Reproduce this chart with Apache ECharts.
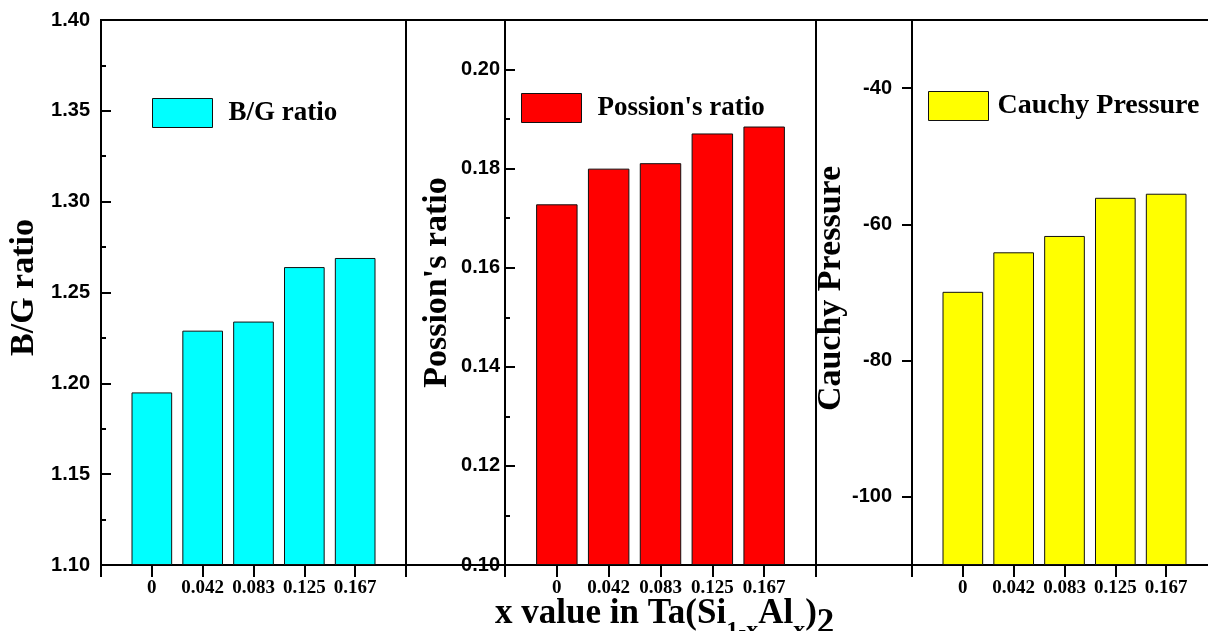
<!DOCTYPE html>
<html>
<head>
<meta charset="utf-8">
<script src="https://cdn.jsdelivr.net/npm/echarts@6/dist/echarts.min.js"></script>
<style>
  html, body { margin: 0; padding: 0; background: #fff; }
  #chart { width: 1208px; height: 631px; }
</style>
</head>
<body>
<div id="chart"></div>
<script>
// x values of Ta(Si1-xAlx)2
const categories = ['0', '0.042', '0.083', '0.125', '0.167'];
// B/G ratio
const bgRatio = [1.195, 1.229, 1.234, 1.264, 1.269];
// Poisson's ratio
const poissonRatio = [0.1728, 0.1800, 0.1811, 0.1871, 0.1885];
// Cauchy pressure
const cauchyPressure = [-69.9, -64.1, -61.7, -56.1, -55.5];

const seriesNames = ['B/G ratio', "Possion's ratio", 'Cauchy Pressure'];
const seriesValues = [bgRatio, poissonRatio, cauchyPressure];
const barColors = ['#00ffff', '#ff0000', '#ffff00'];

const TOP = 20, HEIGHT = 545;
const panels = [
  { left: 101, width: 305, min: 1.10, max: 1.40, interval: 0.05, minor: true, inside: true,
    labelMargin: 11, showMin: true, showMax: true, digits: 2,
    nameGap: 60, namePad: 10, legendLeft: 152, legendTop: 98, legendFont: 27, legendPad: 11 },
  { left: 505, width: 311, min: 0.10, max: 0.21, interval: 0.02, minor: false, inside: true,
    labelMargin: 5, showMin: true, showMax: false, digits: 2,
    nameGap: 51, namePad: 20, legendLeft: 521, legendTop: 93, legendFont: 27, legendPad: 11 },
  { left: 912, width: 305, min: -110, max: -30, splitNumber: 4, minor: false, inside: false,
    labelMargin: 20, showMin: false, showMax: false, digits: 0,
    nameGap: 58, namePad: 8, legendLeft: 928, legendTop: 91, legendFont: 28, legendPad: 4 }
];

const black = '#000';
const sansBold = { fontFamily: 'Liberation Sans', fontWeight: 'bold', color: black };
const serifBold = { fontFamily: 'Liberation Serif', fontWeight: 'bold', color: black };

const grid = panels.map(p => ({
  left: p.left, top: TOP, width: p.width, height: HEIGHT,
  show: true, borderColor: black, borderWidth: 2, backgroundColor: 'transparent',
  outerBoundsMode: 'none'
}));

const xAxis = panels.map((p, i) => ({
  type: 'value', gridIndex: i, min: -1, max: 5, interval: 1, position: 'bottom',
  axisLine: { show: true, onZero: false, lineStyle: { color: black, width: 2 } },
  axisTick: { show: true, inside: false, length: 12, lineStyle: { color: black, width: 2 } },
  axisLabel: Object.assign({ margin: 14, fontSize: 19, showMinLabel: true, showMaxLabel: true,
    formatter: v => categories[v] ?? '' }, serifBold),
  splitLine: { show: false }
}));

const yAxis = panels.map((p, i) => {
  const ax = {
    type: 'value', gridIndex: i, min: p.min, max: p.max, startValue: p.min, position: 'left',
    axisLine: { show: true, onZero: false, lineStyle: { color: black, width: 2 } },
    axisTick: { show: true, inside: p.inside, length: 10, lineStyle: { color: black, width: 2 } },
    minorTick: { show: p.minor, splitNumber: 2, length: 5, lineStyle: { color: black, width: 2 } },
    axisLabel: Object.assign({ margin: p.labelMargin, fontSize: 20,
      showMinLabel: p.showMin, showMaxLabel: p.showMax,
      formatter: v => v.toFixed(p.digits) }, sansBold),
    splitLine: { show: false }, minorSplitLine: { show: false },
    name: seriesNames[i], nameLocation: 'middle', nameGap: p.nameGap,
    nameTextStyle: Object.assign({ fontSize: 34, padding: [0, 0, 0, p.namePad] }, serifBold)
  };
  if (p.interval) ax.interval = p.interval; else ax.splitNumber = p.splitNumber;
  return ax;
});

// short in-between ticks for the middle panel (every 0.01)
yAxis.push({
  type: 'value', gridIndex: 1, min: 0.10, max: 0.21, interval: 0.01, position: 'left',
  axisLine: { show: false, onZero: false }, axisLabel: { show: false }, splitLine: { show: false },
  axisTick: { show: true, inside: true, length: 5, lineStyle: { color: black, width: 2 } }
});

const series = panels.map((p, i) => ({
  type: 'bar', name: seriesNames[i], xAxisIndex: i, yAxisIndex: i,
  data: seriesValues[i].map((v, k) => [k, v]),
  barWidth: 0.8 * p.width / 6,
  clip: true,
  itemStyle: { color: barColors[i], borderColor: '#111', borderWidth: 1 }
}));

const legend = panels.map((p, i) => ({
  data: [seriesNames[i]], left: p.legendLeft, top: p.legendTop, padding: 0,
  icon: 'rect', itemWidth: 60, itemHeight: 29, selectedMode: false,
  itemStyle: { borderColor: '#111', borderWidth: 1 },
  textStyle: Object.assign({ fontSize: p.legendFont, padding: [0, 0, 0, p.legendPad] }, serifBold)
}));

const frameLine = (x1, y1, x2, y2) => ({
  type: 'line', z: 100, silent: true,
  shape: { x1, y1, x2, y2 }, style: { stroke: black, lineWidth: 2 }
});

const graphic = [
  frameLine(406, TOP, 505, TOP), frameLine(406, TOP + HEIGHT, 505, TOP + HEIGHT),
  frameLine(816, TOP, 912, TOP), frameLine(816, TOP + HEIGHT, 912, TOP + HEIGHT),
  {
    type: 'text', left: 495, top: 596, z: 100, silent: true,
    style: {
      text: '{m|x value in Ta(Si}{s|1-x}{m|Al}{s|x}{m|)}{t|2}',
      rich: {
        m: Object.assign({ fontSize: 35, lineHeight: 35, verticalAlign: 'top' }, serifBold),
        s: Object.assign({ fontSize: 24, lineHeight: 24, verticalAlign: 'top', padding: [23, 0, 0, 0] }, serifBold),
        t: Object.assign({ fontSize: 35, lineHeight: 35, verticalAlign: 'top', padding: [10, 0, 0, 0] }, serifBold)
      }
    }
  }
];

const chart = echarts.init(document.getElementById('chart'), null, { renderer: 'canvas' });
chart.setOption({
  backgroundColor: '#fff',
  animation: false,
  grid, xAxis, yAxis, series, legend, graphic
});
</script>
</body>
</html>
